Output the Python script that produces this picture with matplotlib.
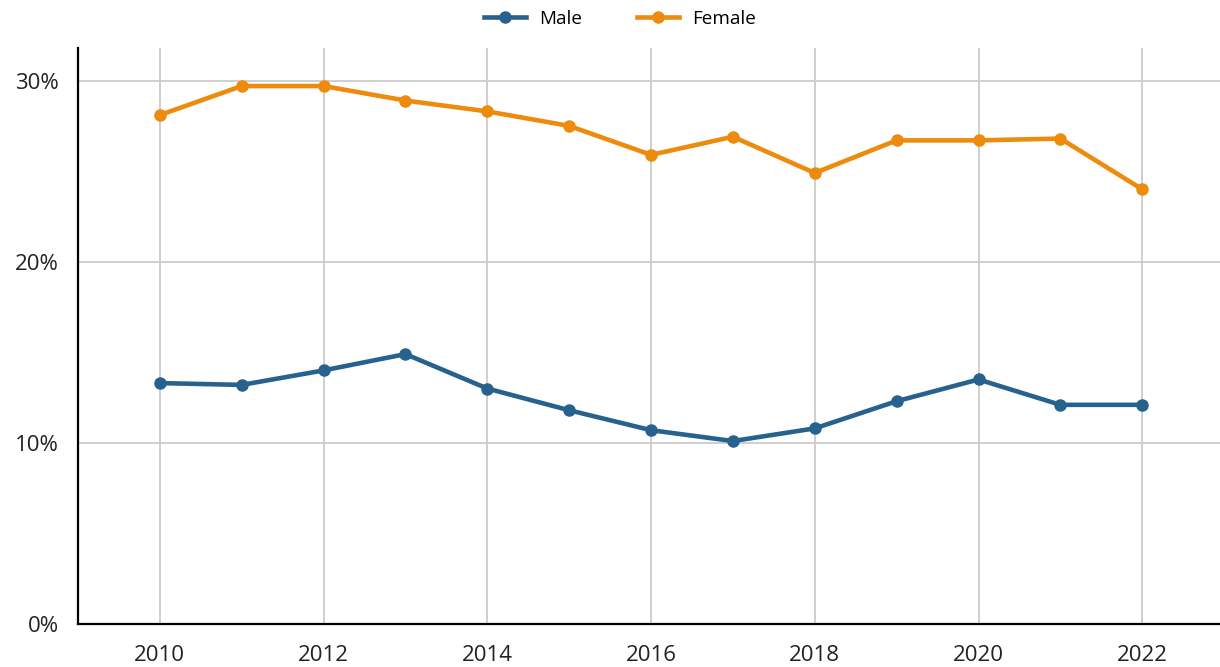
import matplotlib.pyplot as plt
from matplotlib.ticker import FuncFormatter

years = list(range(2010, 2023))
male = [13.3, 13.2, 14.0, 14.9, 13.0, 11.8, 10.7, 10.1, 10.8, 12.3, 13.5, 12.1, 12.1]
female = [28.1, 29.7, 29.7, 28.9, 28.3, 27.5, 25.9, 26.9, 24.9, 26.7, 26.7, 26.8, 24.0]

MALE_COLOR = "#27628f"
FEMALE_COLOR = "#ec8b0c"

plt.rcParams['font.family'] = ['Open Sans', 'DejaVu Sans']

fig = plt.figure(figsize=(12.2, 6.67), dpi=100)
ax = fig.add_axes([78 / 1220, 1 - 624 / 667, (1220 - 78) / 1220, (624 - 48) / 667])

ax.plot(years, male, color=MALE_COLOR, lw=3.3, marker="o", ms=8, label="Male", zorder=3)
ax.plot(years, female, color=FEMALE_COLOR, lw=3.3, marker="o", ms=8, label="Female", zorder=3)

ax.set_xlim(2009, 2022.95)
ax.set_ylim(0, 31.8)
ax.set_xticks(range(2010, 2023, 2))
ax.set_yticks([0, 10, 20, 30])
ax.yaxis.set_major_formatter(FuncFormatter(lambda v, _: f"{v:.0f}%"))

ax.grid(True, color="#cccccc", lw=1.3)
ax.set_axisbelow(True)
for side in ("top", "right"):
    ax.spines[side].set_visible(False)
for side in ("left", "bottom"):
    ax.spines[side].set_linewidth(1.6)
    ax.spines[side].set_color("black")
    ax.spines[side].set_zorder(4)

ax.tick_params(axis="both", length=0, labelsize=16, colors="#222222")
ax.tick_params(axis="x", pad=15)
ax.tick_params(axis="y", pad=14)

ax.legend(loc="center", bbox_to_anchor=((620 - 78) / 1142, 1 + 29 / 576), ncol=2, frameon=False,
          fontsize=13.6, handlelength=2.2, columnspacing=2.9, handletextpad=0.7)

fig.savefig("out.png", dpi=100)
